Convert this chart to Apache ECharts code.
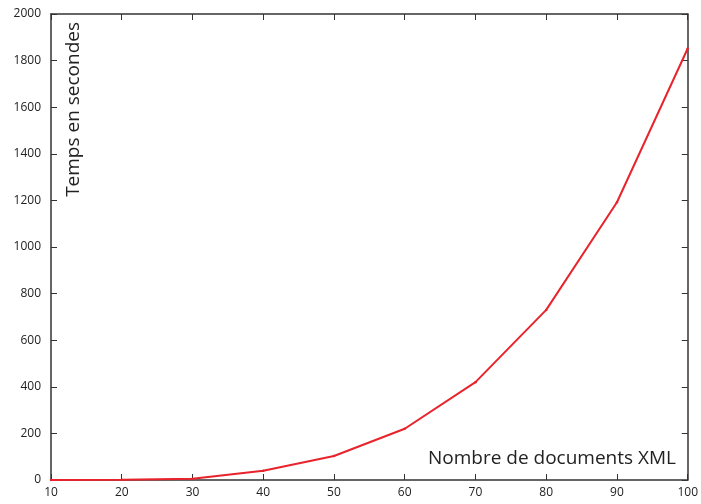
<!DOCTYPE html>
<html><head><meta charset="utf-8">
<script src="https://cdn.jsdelivr.net/npm/echarts@6/dist/echarts.min.js"></script>
<style>html,body{margin:0;padding:0;background:#fff}#c{width:701px;height:504px}</style>
</head><body><div id="c"></div>
<script>
const xValues = [10, 20, 30, 40, 50, 60, 70, 80, 90, 100];
const timeSeconds = [0, 1, 5, 40, 103, 220, 420, 730, 1192, 1852];
const xTitle = 'Nombre de documents XML';
const yTitle = 'Temps en secondes';

const chart = echarts.init(document.getElementById('c'));
const font = 'Open Sans';
const axisCommon = {
  axisLine: {show: true, onZero: false, lineStyle: {color: '#333', width: 1.5}},
  axisTick: {show: true, inside: true, length: 6, lineStyle: {color: '#333'}},
  splitLine: {show: false}
};
chart.setOption({
  animation: false,
  grid: {left: 51, right: 13, top: 14, bottom: 24},
  xAxis: [
    Object.assign({type: 'value', min: 10, max: 100, interval: 10, position: 'bottom',
      axisLabel: {color: '#222', fontFamily: font, fontSize: 12, margin: 7, formatter: v => String(v)}}, axisCommon),
    Object.assign({type: 'value', min: 10, max: 100, interval: 10, position: 'top',
      axisLabel: {show: false}}, axisCommon)
  ],
  yAxis: [
    Object.assign({type: 'value', min: 0, max: 2000, interval: 200, position: 'left',
      axisLabel: {color: '#222', fontFamily: font, fontSize: 12, margin: 10, formatter: v => String(v)}}, axisCommon),
    Object.assign({type: 'value', min: 0, max: 2000, interval: 200, position: 'right',
      axisLabel: {show: false}}, axisCommon)
  ],
  series: [{
    type: 'line',
    data: xValues.map((x, i) => [x, timeSeconds[i]]),
    symbol: 'circle', symbolSize: 2.5, showSymbol: true,
    itemStyle: {color: '#e8232b'},
    lineStyle: {color: '#e8232b', width: 2}
  }],
  graphic: [
    {type: 'text', x: 74, y: 22, rotation: Math.PI / 2,
      style: {text: yTitle, fontFamily: font, fontSize: 19, fill: '#222', align: 'right', verticalAlign: 'middle'}},
    {type: 'text', x: 676, y: 459,
      style: {text: xTitle, fontFamily: font, fontSize: 19, fill: '#222', align: 'right', verticalAlign: 'middle'}}
  ]
});
</script></body></html>
